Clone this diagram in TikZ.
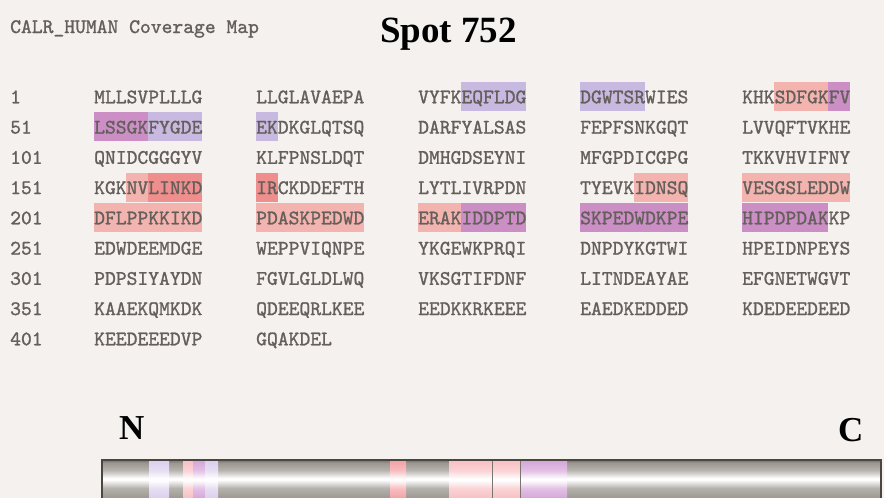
\documentclass[tikz,border=0pt]{standalone}
\usepackage{fontspec}
\newfontfamily\tnr{Liberation Serif}
\newfontfamily\seqfamily[FakeBold=1.2]{lmmono10-regular.otf}
\newcommand\seqfnt{\seqfamily\fontsize{20.6}{24}\selectfont}
\definecolor{bg}{HTML}{F4F1EE}
\definecolor{seqtext}{HTML}{645F5B}
\definecolor{hlav}{HTML}{C8B9E1}
\definecolor{hpink}{HTML}{F3B4AF}
\definecolor{hpur}{HTML}{CB8FC6}
\definecolor{hred}{HTML}{EF8F8D}
\definecolor{tubegray}{HTML}{9C9791}
\definecolor{tubedark}{HTML}{7A756F}
\definecolor{tubeedge}{HTML}{4A4642}
\definecolor{blav}{HTML}{DCD0EE}
\definecolor{bpink}{HTML}{F8C0C4}
\definecolor{bpur}{HTML}{D6A6DA}
\definecolor{bred}{HTML}{F4A2A6}
% cylinder look: colour at the edges, white streak along the middle
\pgfdeclareverticalshading{tube}{100bp}{color(0bp)=(tubegray); color(25bp)=(tubegray);
  color(38bp)=(tubegray!75!white); color(49bp)=(white); color(51bp)=(white);
  color(62bp)=(tubegray!75!white); color(71bp)=(tubegray); color(75bp)=(tubedark); color(100bp)=(tubedark)}
\newcommand\bandshade[2]{\pgfdeclareverticalshading{#1}{100bp}{color(0bp)=(#2); color(25bp)=(#2);
  color(38bp)=(#2!70!white); color(49bp)=(white); color(51bp)=(white);
  color(62bp)=(#2!70!white); color(75bp)=(#2); color(100bp)=(#2)}}
\bandshade{tlav}{blav}
\bandshade{tpink}{bpink}
\bandshade{tpur}{bpur}
\bandshade{tred}{bred}
% coverage mark: colour, row, group, first residue in group, length
\newcommand\seqmark[5]{\fill[#1] ({94+162*(#3-1)+10.8*(#4-1)},{97+30.25*#2-15}) rectangle ++({10.8*#5},29);}
\begin{document}
\begin{tikzpicture}[x=1pt,y=-1pt,
  seq/.style={inner sep=0pt, anchor=base west, font=\seqfnt, text=seqtext},
  bigbold/.style={inner sep=0pt, anchor=base west, font=\tnr\bfseries\fontsize{#1}{#1}\selectfont, text=black},
  band/.style={shading=#1}]
\fill[bg] (0,0) rectangle (884,498);
\useasboundingbox (0,0) rectangle (884,498);

% covered stretches of the sequence
\seqmark{hlav}{0}{3}{5}{6}
\seqmark{hlav}{0}{4}{1}{6}
\seqmark{hpink}{0}{5}{4}{5}
\seqmark{hpur}{0}{5}{9}{2}
\seqmark{hpur}{1}{1}{1}{5}
\seqmark{hlav}{1}{1}{6}{5}
\seqmark{hlav}{1}{2}{1}{2}
\seqmark{hpink}{3}{1}{4}{2}
\seqmark{hred}{3}{1}{6}{5}
\seqmark{hred}{3}{2}{1}{2}
\seqmark{hpink}{3}{4}{6}{5}
\seqmark{hpink}{3}{5}{1}{10}
\seqmark{hpink}{4}{1}{1}{10}
\seqmark{hpink}{4}{2}{1}{10}
\seqmark{hpink}{4}{3}{1}{4}
\seqmark{hpur}{4}{3}{5}{6}
\seqmark{hpur}{4}{4}{1}{10}
\seqmark{hpur}{4}{5}{1}{8}

% header
\node[seq] (map) at (10,33) {CALR\_HUMAN Coverage Map};
\node[bigbold=37] (spot) at (380,42) {Spot 752};

% sequence rows
\foreach \k/\n/\ga/\gb/\gc/\gd/\ge in {
  0/1/MLLSVPLLLG/LLGLAVAEPA/VYFKEQFLDG/DGWTSRWIES/KHKSDFGKFV,
  1/51/LSSGKFYGDE/EKDKGLQTSQ/DARFYALSAS/FEPFSNKGQT/LVVQFTVKHE,
  2/101/QNIDCGGGYV/KLFPNSLDQT/DMHGDSEYNI/MFGPDICGPG/TKKVHVIFNY,
  3/151/KGKNVLINKD/IRCKDDEFTH/LYTLIVRPDN/TYEVKIDNSQ/VESGSLEDDW,
  4/201/DFLPPKKIKD/PDASKPEDWD/ERAKIDDPTD/SKPEDWDKPE/HIPDPDAKKP,
  5/251/EDWDEEMDGE/WEPPVIQNPE/YKGEWKPRQI/DNPDYKGTWI/HPEIDNPEYS,
  6/301/PDPSIYAYDN/FGVLGLDLWQ/VKSGTIFDNF/LITNDEAYAE/EFGNETWGVT,
  7/351/KAAEKQMKDK/QDEEQRLKEE/EEDKKRKEEE/EAEDKEDDED/KDEDEEDEED}{
  \node[seq] (num\k) at (10,{103.3+30.25*\k}) {\n};
  \node[seq] (grp\k-1) at (94,{103.3+30.25*\k}) {\ga};
  \node[seq] (grp\k-2) at (256,{103.3+30.25*\k}) {\gb};
  \node[seq] (grp\k-3) at (418,{103.3+30.25*\k}) {\gc};
  \node[seq] (grp\k-4) at (580,{103.3+30.25*\k}) {\gd};
  \node[seq] (grp\k-5) at (742,{103.3+30.25*\k}) {\ge};
}
\node[seq] (num8) at (10,{103.3+30.25*8}) {401};
\node[seq] (grp8-1) at (94,{103.3+30.25*8}) {KEEDEEEDVP};
\node[seq] (grp8-2) at (256,{103.3+30.25*8}) {GQAKDEL};

% termini
\node[bigbold=35] (nterm) at (119,439) {N};
\node[bigbold=35] (cterm) at (838,441) {C};

% protein bar with covered regions
\shade[shading=tube] (102,460) rectangle (881,498);
\shade[band=tlav] (149,461) rectangle (169,498);
\shade[band=tpink] (183,461) rectangle (193,498);
\shade[band=tpur] (193,461) rectangle (205,498);
\shade[band=tlav] (205,461) rectangle (218,498);
\shade[band=tred] (390,461) rectangle (406,498);
\shade[band=tpink] (449,461) rectangle (521,498);
\shade[band=tpur] (521,461) rectangle (567,498);
\draw[tubedark, line width=0.8] (492,461) -- (492,498) (520,461) -- (520,498);
\draw[tubeedge, line width=1.6] (102,498) -- (102,460) -- (881,460) -- (881,498);
\end{tikzpicture}
\end{document}
